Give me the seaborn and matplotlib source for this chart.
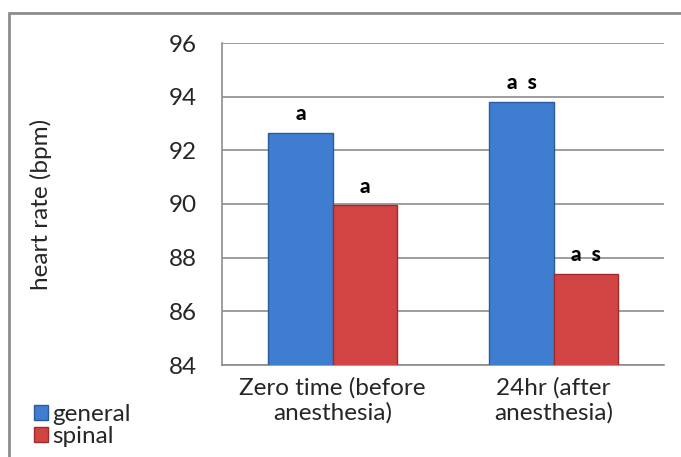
import numpy as np
import pandas as pd
import matplotlib
matplotlib.use("Agg")
import matplotlib.pyplot as plt
import seaborn as sns
from matplotlib.patches import Rectangle, Patch

# data
periods = ["Zero time (before\nanesthesia)", "24hr (after\nanesthesia)"]
groups = ["general", "spinal"]
general_hr = [92.65, 93.8]
spinal_hr = [89.95, 87.4]
sig_labels = [["a", "a"], ["a  s", "a  s"]]  # [period][group]
yticks = [84, 86, 88, 90, 92, 94, 96]

colors = {"general": "#3f7dd0", "spinal": "#d24444"}
edges = {"general": "#2b5a9e", "spinal": "#9e2b2b"}

df = pd.DataFrame({
    "period": periods * 2,
    "group": ["general"] * 2 + ["spinal"] * 2,
    "hr": general_hr + spinal_hr,
})

sns.set_style("white")
plt.rcParams["font.family"] = ["Lato", "DejaVu Sans"]
FS = 17.5

fig = plt.figure(figsize=(6.81, 4.57), dpi=100)
ax = fig.add_axes([222 / 681, 1 - 365 / 457, 442 / 681, 322 / 457])

sns.barplot(data=df, x="period", y="hr", hue="group", order=periods, hue_order=groups,
            palette=colors, saturation=1, width=0.58, ax=ax, legend=False, zorder=3)
ax.set_ylim(84, 96)
ax.set_xlim(-0.5, 1.5)

# edge colours and significance letters
for cont, g in zip(ax.containers, groups):
    for j, bar in enumerate(cont):
        bar.set_edgecolor(edges[g])
        bar.set_linewidth(1.0)
        ax.annotate(sig_labels[j][groups.index(g)],
                    (bar.get_x() + bar.get_width() / 2, bar.get_height()),
                    xytext=(0, 7), textcoords="offset points", ha="center", va="bottom",
                    fontsize=15, fontweight="black", color="black")

ax.set_yticks(yticks)
ax.yaxis.grid(True, color="#8c8c8c", lw=1.2, zorder=0)
ax.set_axisbelow(True)
for s in ["top", "right"]:
    ax.spines[s].set_visible(False)
for s in ["left", "bottom"]:
    ax.spines[s].set_color("#8c8c8c")
    ax.spines[s].set_linewidth(1.2)
ax.tick_params(axis="y", length=8, color="#8c8c8c", width=1.2, labelsize=FS, pad=10)
ax.tick_params(axis="x", which="major", length=0, labelsize=FS, pad=9)
ax.set_xticks([-0.5, 0.5, 1.5], minor=True)
ax.tick_params(axis="x", which="minor", length=8, color="#8c8c8c", width=1.2)
ax.set_xlabel("")
ax.set_ylabel("heart rate (bpm)", fontsize=FS)
ax.yaxis.set_label_coords(-0.385, 0.5)
for lab in ax.get_xticklabels():
    lab.set_linespacing(1.15)

# legend in the lower left corner
handles = [Patch(facecolor=colors[g], edgecolor=edges[g], label=g) for g in groups]
fig.legend(handles=handles, loc="lower left", bbox_to_anchor=(24 / 681, 0.0), frameon=False,
           fontsize=FS, handlelength=0.6, handleheight=0.6, handletextpad=0.15,
           labelspacing=0.05, borderaxespad=0)

# outer chart border
fig.patches.append(Rectangle((9 / 681, -0.05), 1.2, 1 - 13 / 457 + 0.05, transform=fig.transFigure,
                             fill=False, edgecolor="#8c8c8c", lw=2))

fig.savefig("out.png", dpi=100)
